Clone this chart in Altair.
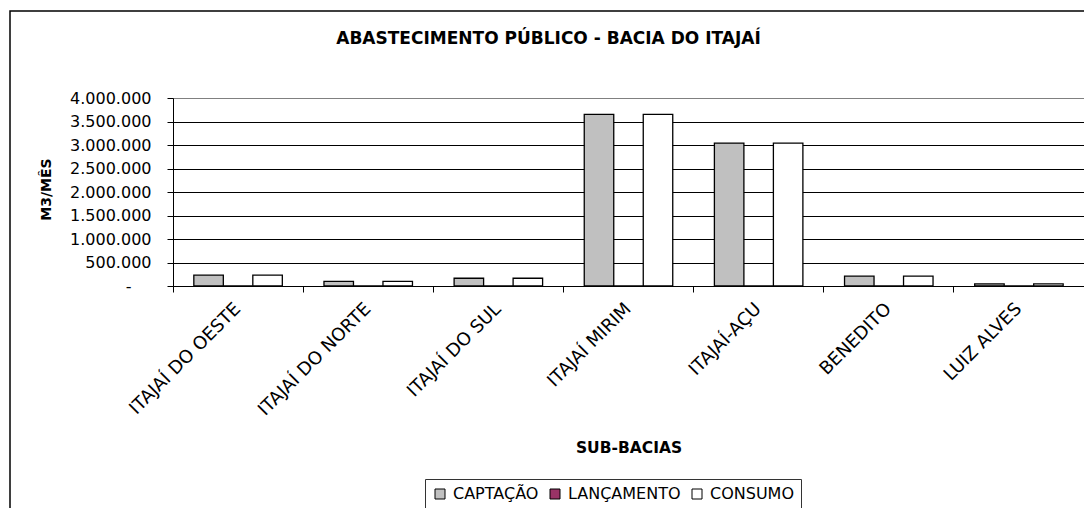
import altair as alt
import pandas as pd

# ---- data ----
sub_bacias = ["ITAJAÍ DO OESTE", "ITAJAÍ DO NORTE", "ITAJAÍ DO SUL", "ITAJAÍ MIRIM",
              "ITAJAÍ-AÇU", "BENEDITO", "LUIZ ALVES"]
series = ["CAPTAÇÃO", "LANÇAMENTO", "CONSUMO"]
captacao = [230000, 100000, 165000, 3650000, 3040000, 210000, 45000]
lancamento = [0, 0, 0, 0, 0, 0, 0]
consumo = [230000, 100000, 165000, 3650000, 3040000, 210000, 45000]
colors = ["#C0C0C0", "#993366", "#FFFFFF"]
y_ticks = [0, 500000, 1000000, 1500000, 2000000, 2500000, 3000000, 3500000, 4000000]

rows = []
for name, vals in zip(series, [captacao, lancamento, consumo]):
    for sb, v in zip(sub_bacias, vals):
        rows.append({"sub": sb, "serie": name, "valor": v})
df = pd.DataFrame(rows)

FONT = "DejaVu Sans"
W, H = 911, 188
P_IN, P_OUT = 0.32, 0.16
step = W / (len(sub_bacias) - P_IN + 2 * P_OUT)
band_pos = -(P_OUT * step) / (step * (1 - P_IN))

frame = alt.Chart(pd.DataFrame({"k": [0]})).mark_rect(
    fillOpacity=0, stroke="black", strokeWidth=1.5
).encode(
    x=alt.value(-163), x2=alt.value(1000), y=alt.value(-87), y2=alt.value(700)
)

label_expr = ("datum.value == 0 ? '-' : "
              "replace(format(datum.value, ','), regexp(',', 'g'), '.')")

bars = alt.Chart(df).mark_bar(stroke="black", strokeWidth=1.3).encode(
    x=alt.X("sub:N", sort=sub_bacias,
            scale=alt.Scale(paddingInner=P_IN, paddingOuter=P_OUT),
            axis=alt.Axis(title="SUB-BACIAS", bandPosition=band_pos,
                          labelAngle=-45, labelAlign="right", labelBaseline="middle",
                          labelPadding=14, tickSize=6, tickColor="black",
                          domainColor="black", labelFont=FONT, labelFontSize=18,
                          labelColor="black", titleFont=FONT, titleFontSize=15.5,
                          titleFontWeight="bold", titleColor="black",
                          titleX=W / 2, titleY=166, titleAlign="center",
                          titleBaseline="alphabetic", grid=False)),
    xOffset=alt.XOffset("serie:N", sort=series,
                        scale=alt.Scale(paddingInner=0, paddingOuter=0)),
    y=alt.Y("valor:Q", scale=alt.Scale(domain=[0, 4000000], nice=False),
            axis=alt.Axis(title="M3/MÊS", values=y_ticks, labelExpr=label_expr,
                          labelFont=FONT, labelFontSize=16, labelColor="black",
                          labelPadding={"condition": {"test": "datum.value == 0",
                                                      "value": 36},
                                        "value": 16},
                          tickSize=6, tickColor="black",
                          domainColor="black", grid=True,
                          gridColor={"condition": {"test": "datum.value >= 4000000",
                                                   "value": "#808080"},
                                     "value": "black"},
                          gridWidth=1, titleFont=FONT, titleFontSize=14,
                          titleFontWeight="bold", titleColor="black",
                          titleX=-123, titleY=91, titleBaseline="alphabetic")),
    color=alt.Color("serie:N", sort=series,
                    scale=alt.Scale(domain=series, range=colors),
                    legend=alt.Legend(title=None, orient="none", direction="horizontal",
                                      legendX=252, legendY=381, columns=3,
                                      symbolType="square", symbolSize=100,
                                      symbolStrokeColor="black", symbolStrokeWidth=1,
                                      symbolOpacity=1, labelFont=FONT, labelFontSize=16,
                                      labelColor="black", labelOffset=5,
                                      columnPadding=8, padding=7,
                                      strokeColor="#333333", fillColor="white")),
)

chart = alt.layer(frame, bars).properties(
    width=W, height=H,
    title=alt.TitleParams("ABASTECIMENTO PÚBLICO - BACIA DO ITAJAÍ", font=FONT,
                          fontSize=17, fontWeight="bold", color="black",
                          anchor="middle", dx=-80, offset=0, dy=38),
    autosize=alt.AutoSizeParams(type="none"),
    padding={"left": 165, "top": 90, "right": 0, "bottom": 222},
    background="white",
).configure_view(stroke="#808080", strokeWidth=1)

chart.save("out.html", embed_options={"renderer": "svg", "actions": False})
